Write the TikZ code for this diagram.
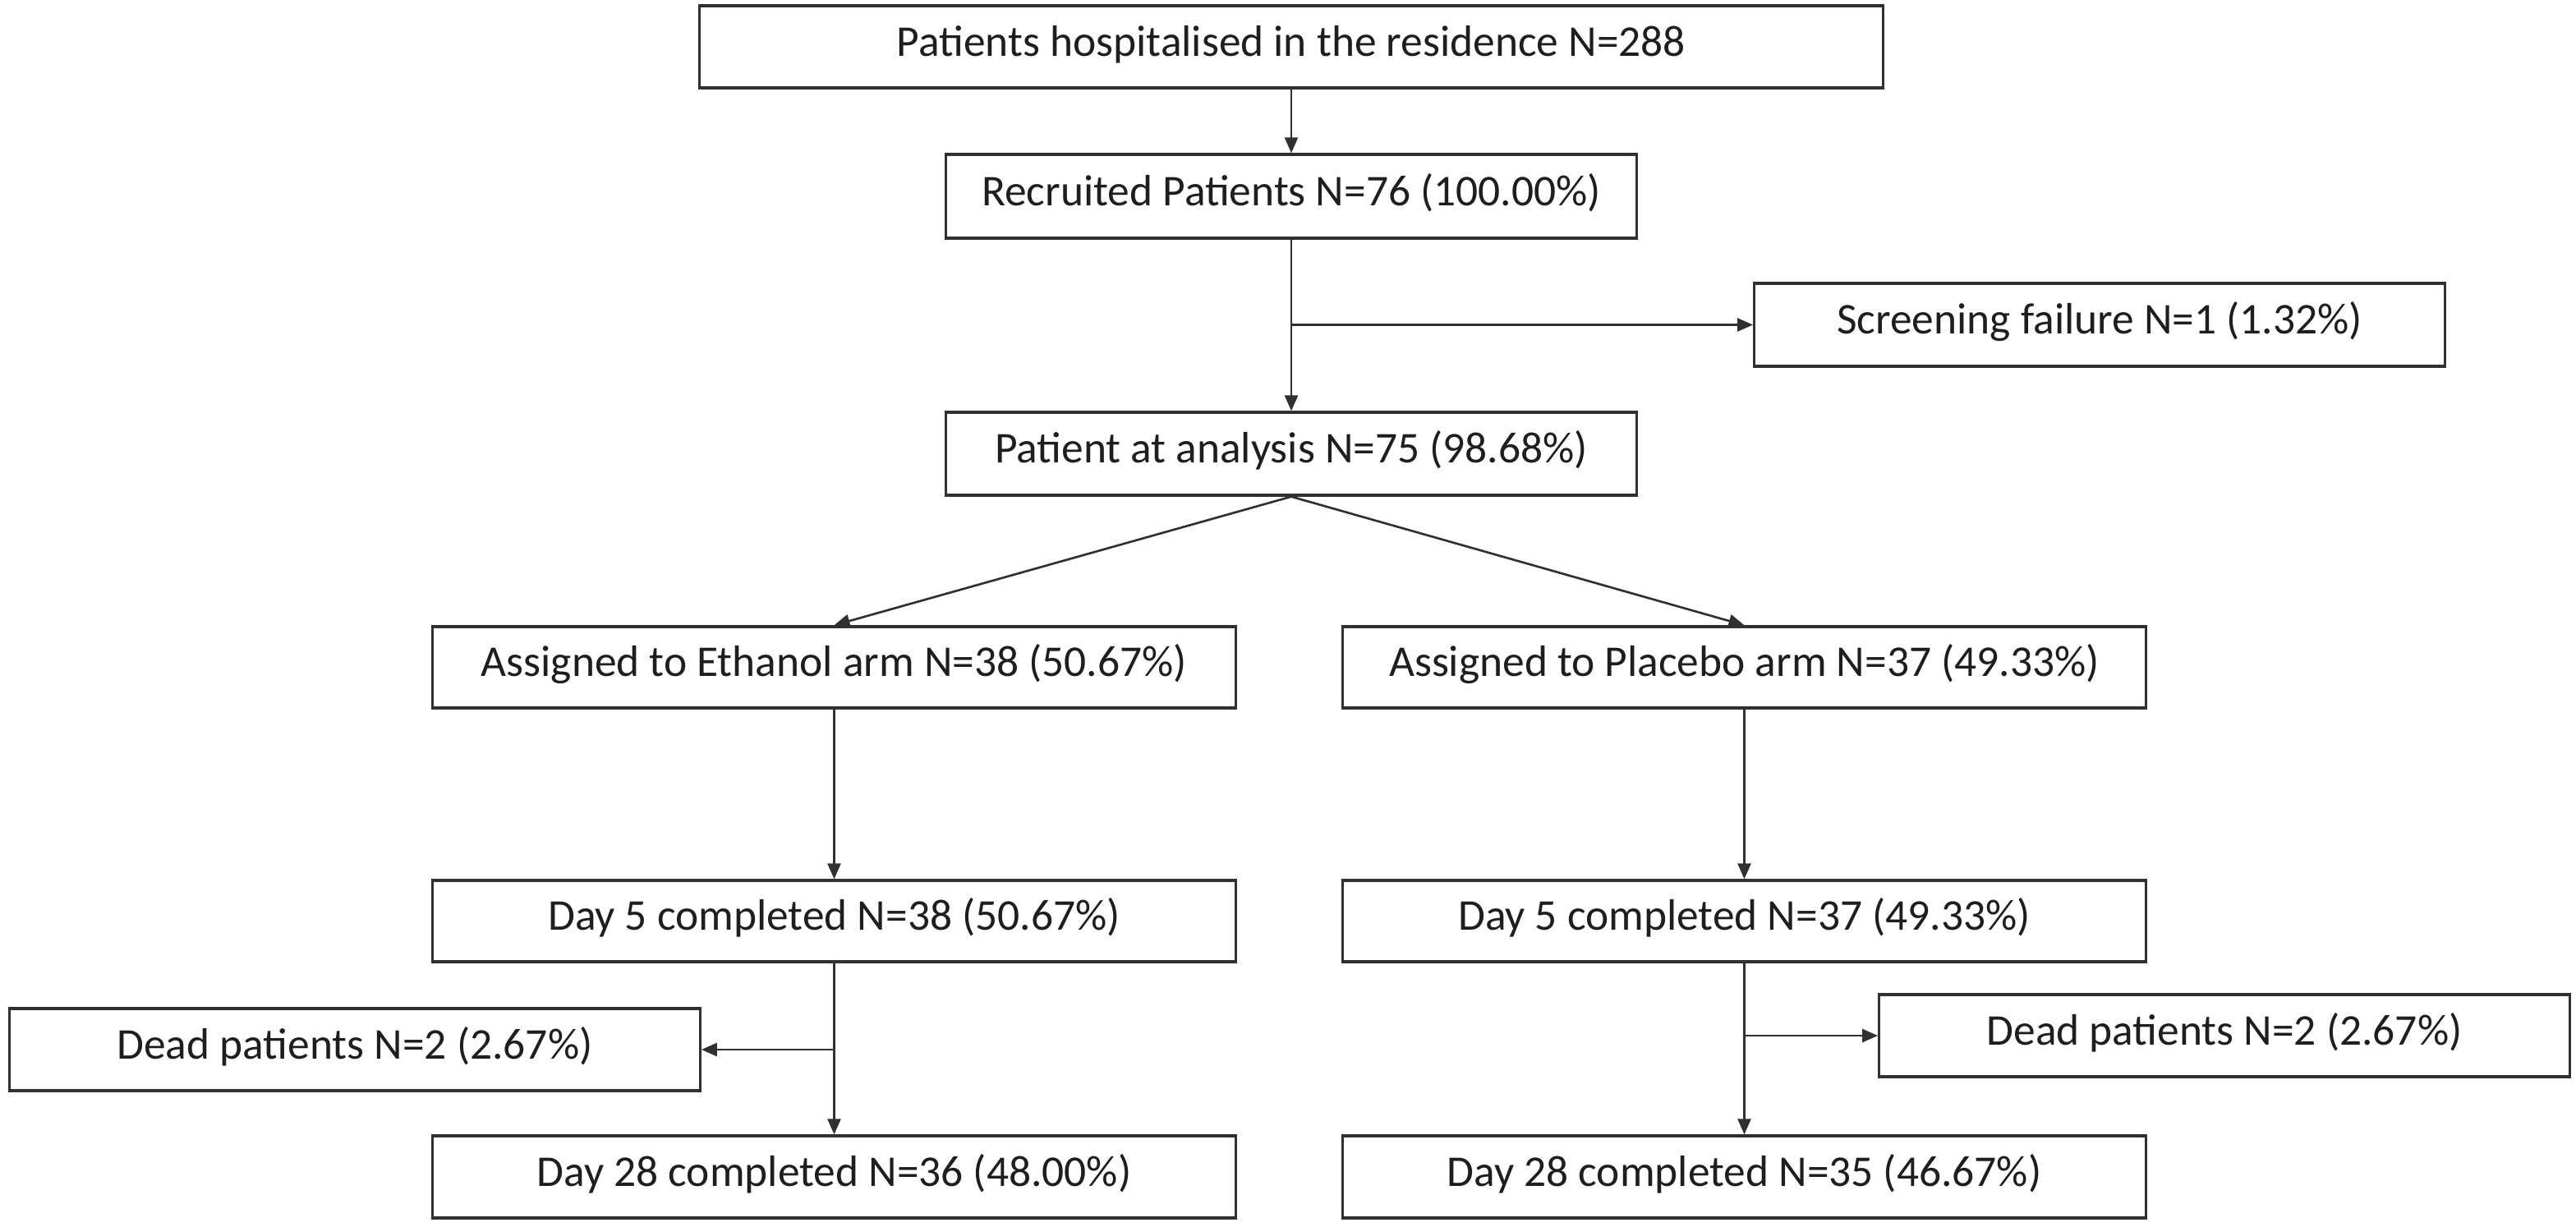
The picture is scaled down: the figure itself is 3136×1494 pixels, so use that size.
\documentclass[tikz,border=0pt]{standalone}
\usepackage{fontspec}
\setmainfont{Carlito}
\usetikzlibrary{arrows.meta,calc}
\definecolor{edge}{HTML}{303030}
\definecolor{txt}{HTML}{1E1E1E}
\begin{document}
\begin{tikzpicture}[x=0.01cm,y=-0.01cm,
  box/.style={draw=edge,line width=0.95pt,rectangle,inner sep=0pt,align=center,text=txt,
    text height=0.72em,text depth=0.08em,
    font=\fontsize{15.2pt}{18pt}\selectfont},
  arr/.style={draw=edge,line width=0.75pt,-{Triangle[length=0.19cm,width=0.16cm]}}]
\useasboundingbox (0,0) rectangle (3136,1494);
\fill[white] (0,0) rectangle (3136,1494);
\node[box,minimum width=14.40cm,minimum height=1.00cm] (top) at (1572,57) {Patients hospitalised in the residence N=288};
\node[box,minimum width=8.40cm,minimum height=1.02cm] (rec) at (1572,239) {Recruited Patients N=76 (100.00\%)};
\node[box,minimum width=8.40cm,minimum height=1.01cm] (scr) at (2556,395.5) {Screening failure N=1 (1.32\%)};
\node[box,minimum width=8.40cm,minimum height=1.01cm] (ana) at (1572,552.5) {Patient at analysis N=75 (98.68\%)};
\node[box,minimum width=9.77cm,minimum height=0.99cm] (eth) at (1015.5,812.5) {Assigned to Ethanol arm N=38 (50.67\%)};
\node[box,minimum width=9.77cm,minimum height=0.99cm] (pla) at (2123.5,812.5) {Assigned to Placebo arm N=37 (49.33\%)};
\node[box,minimum width=9.77cm,minimum height=0.99cm] (d5l) at (1015.5,1121.5) {Day 5 completed N=38 (50.67\%)};
\node[box,minimum width=9.77cm,minimum height=0.99cm] (d5r) at (2123.5,1121.5) {Day 5 completed N=37 (49.33\%)};
\node[box,minimum width=8.40cm,minimum height=1.00cm] (deadl) at (432,1278) {Dead patients N=2 (2.67\%)};
\node[box,minimum width=8.40cm,minimum height=1.00cm] (deadr) at (2708,1261) {Dead patients N=2 (2.67\%)};
\node[box,minimum width=9.77cm,minimum height=1.00cm] (d28l) at (1015.5,1433) {Day 28 completed N=36 (48.00\%)};
\node[box,minimum width=9.77cm,minimum height=1.00cm] (d28r) at (2123.5,1433) {Day 28 completed N=35 (46.67\%)};
\draw[arr] (top.south) -- (rec.north);
\draw[arr] (rec.south) -- (ana.north);
\coordinate (b1) at (rec.south |- scr.west);
\draw[arr] (b1) -- (scr.west);
\draw[arr] (ana.south) -- (eth.north);
\draw[arr] (ana.south) -- (pla.north);
\draw[arr] (eth.south) -- (d5l.north);
\draw[arr] (pla.south) -- (d5r.north);
\draw[arr] (d5l.south) -- (d28l.north);
\draw[arr] (d5r.south) -- (d28r.north);
\coordinate (b2) at (d5l.south |- deadl.east);
\draw[arr] (b2) -- (deadl.east);
\coordinate (b3) at (d5r.south |- deadr.west);
\draw[arr] (b3) -- (deadr.west);
\end{tikzpicture}
\end{document}
